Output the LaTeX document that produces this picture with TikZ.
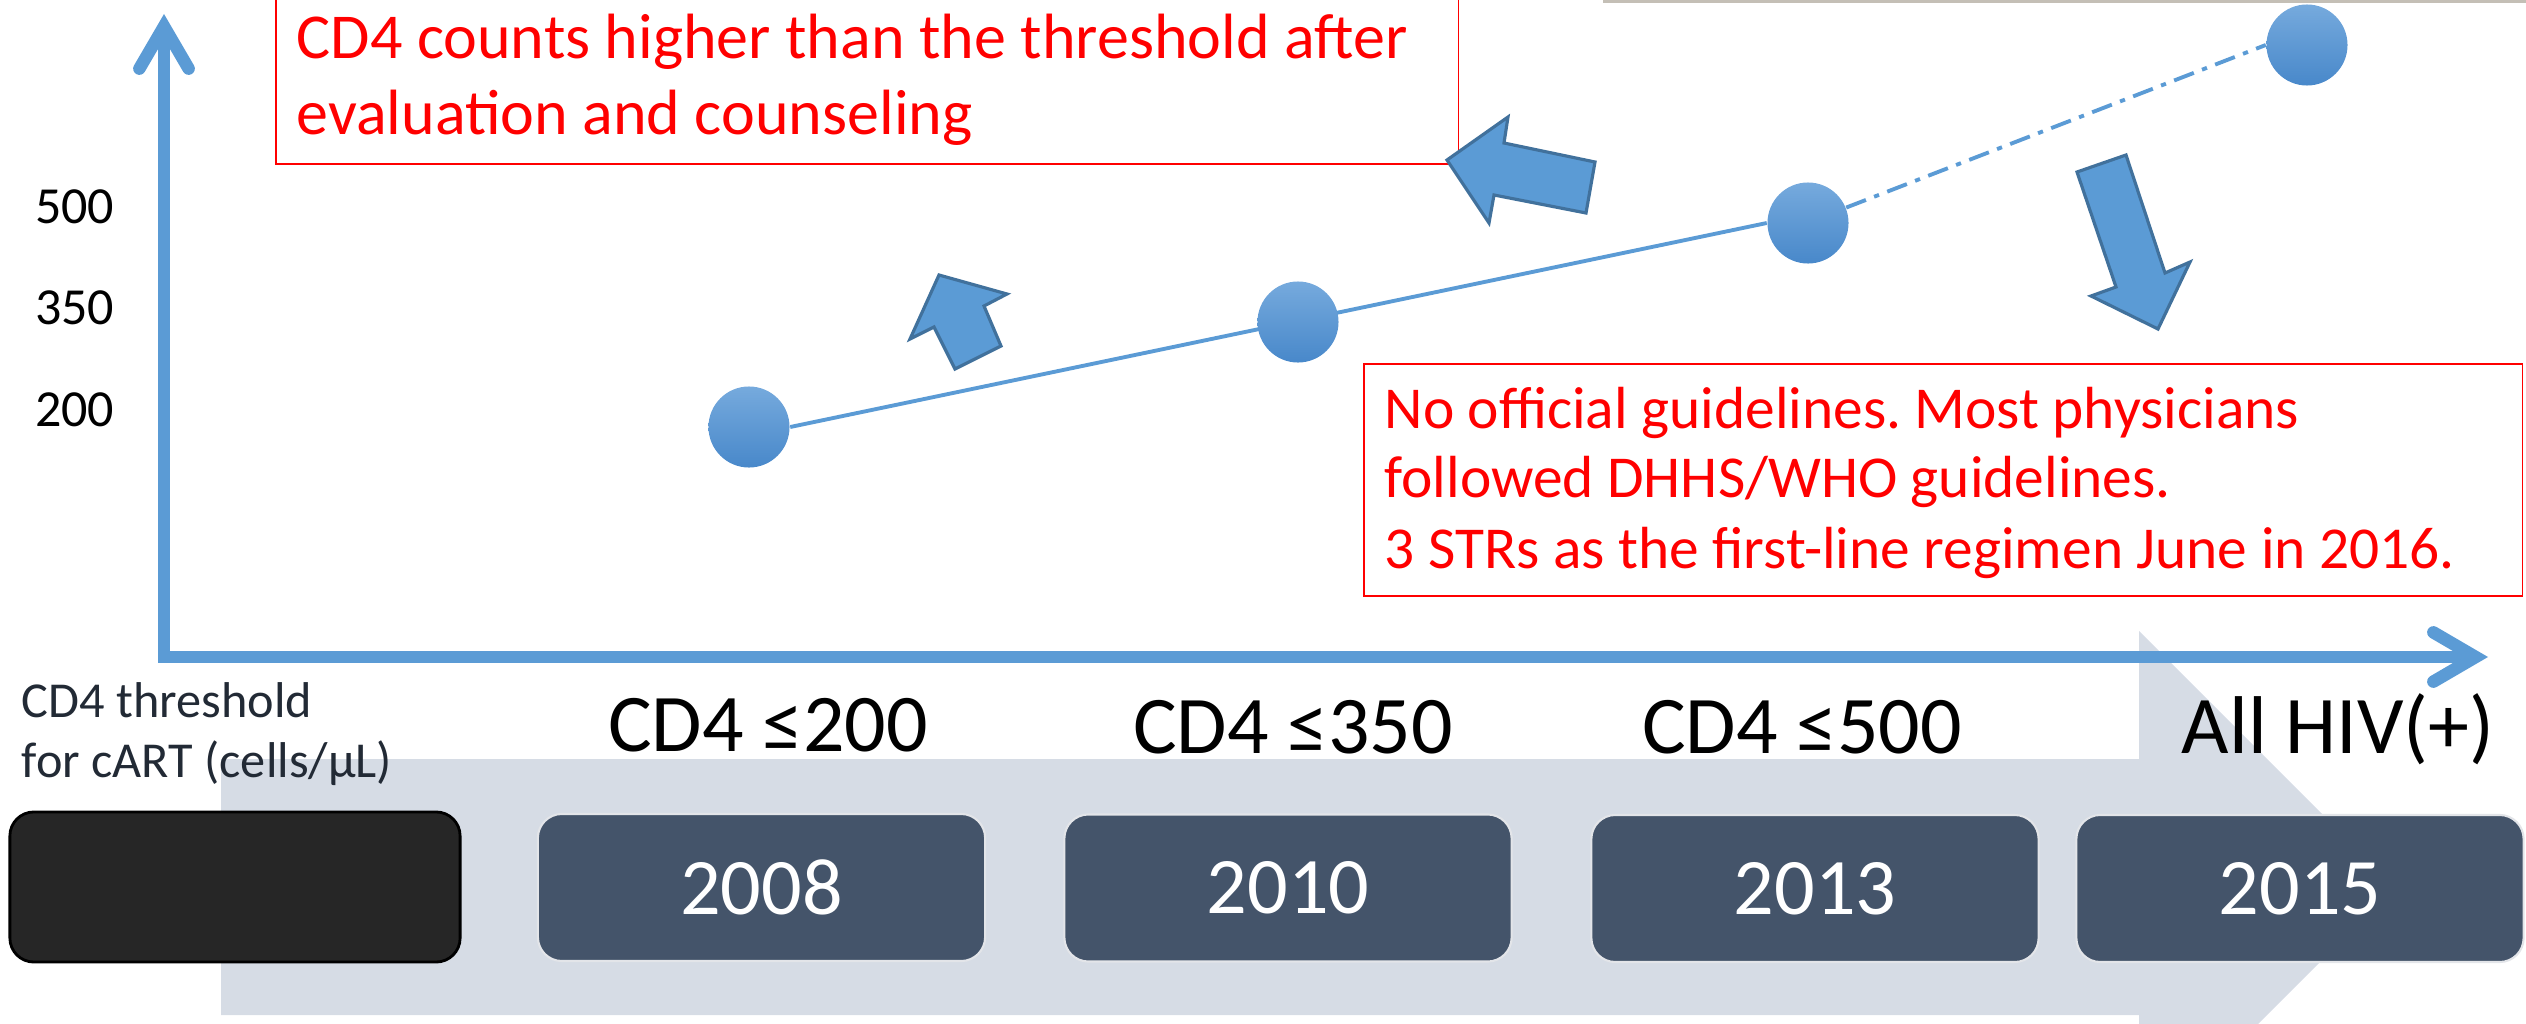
\documentclass[tikz,border=0pt]{standalone}
\usepackage{fontspec}
\setmainfont{Carlito}
\usetikzlibrary{arrows.meta}
\frenchspacing
\definecolor{axisblue}{HTML}{5B9BD5}
\definecolor{arrowedge}{HTML}{41719C}
\definecolor{dotlight}{HTML}{76AADD}
\definecolor{dotdark}{HTML}{4888CA}
\definecolor{bandgray}{HTML}{D6DCE5}
\definecolor{yearfill}{HTML}{44546A}
\definecolor{darkfill}{HTML}{262626}
\definecolor{labelink}{HTML}{222A35}
\definecolor{topstrip}{HTML}{C4BFB6}
\definecolor{notered}{HTML}{FF0000}
\pgfdeclarelayer{bg}
\pgfsetlayers{bg,main}
\tikzset{
  redbox/.style={draw=notered, line width=0.5pt, inner sep=0pt, anchor=north west},
  redtext/.style={text=notered, inner sep=0pt, anchor=base west},
  ticklabel/.style={inner sep=0pt, anchor=base east, font=\fontsize{14.8}{18}\selectfont},
  yearbox/.style={draw=white!85!yearfill, line width=0.6pt, fill=yearfill, rounded corners=0.24cm,
    minimum width=4.47cm, minimum height=1.47cm, inner sep=0pt, text=white,
    font=\fontsize{22.8}{27}\selectfont},
  threshold/.style={inner sep=0pt, anchor=base, font=\fontsize{23.3}{28}\selectfont},
  dot/.style={circle, minimum size=0.81cm, inner sep=0pt, top color=dotlight, bottom color=dotdark},
  blockarrow/.style={fill=axisblue, draw=arrowedge, line width=0.9pt, line join=miter},
  dataline/.style={draw=axisblue, line width=1.1pt},
  axisline/.style={draw=axisblue, line width=3.56pt,
    {Straight Barb[length=12pt,width=14pt,line cap=round]}-{Straight Barb[length=12pt,width=14pt,line cap=round]}},
  keylabel/.style={inner sep=0pt, anchor=base west, text=labelink, font=\fontsize{14.3}{17}\selectfont}
}
\begin{document}
\begin{tikzpicture}[x=0.01cm, y=-0.01cm]
\useasboundingbox (0,0) rectangle (2526,1024);
\clip (0,0) rectangle (2526,1024);

% thin strip along the top edge
\fill[topstrip] (1603,0) rectangle (2526,3);

% timeline band with arrow head
\fill[bandgray] (221,759) -- (2139,759) -- (2139,631) -- (2395,887) -- (2139,1143)
  -- (2139,1015) -- (221,1015) -- cycle;

% upper note
\node[redbox, minimum width=11.82cm, minimum height=1.68cm] (noteA) at (275,-5) {};
\node[redtext, font=\fontsize{18.2}{22}\selectfont] (noteA1) at (296,58)
  {CD4 counts higher than the threshold after};
\node[redtext, font=\fontsize{18.2}{22}\selectfont] (noteA2) at (296,134)
  {evaluation and counseling};

% lower note
\node[redbox, minimum width=11.58cm, minimum height=2.32cm] (noteB) at (1363,363) {};
\node[redtext, font=\fontsize{16.9}{20}\selectfont] (noteB1) at (1384,428)
  {No official guidelines. Most physicians};
\node[redtext, font=\fontsize{16.9}{20}\selectfont] (noteB2) at (1384,497)
  {followed DHHS/WHO guidelines.};
\node[redtext, font=\fontsize{16.9}{20}\selectfont] (noteB3) at (1384,568)
  {3 STRs as the first-line regimen June in 2016.};

% axes
\coordinate (origin) at (164,657);
\coordinate (ytop) at (164,14);
\coordinate (xend) at (2488,657);
\draw[axisline, line join=miter] (ytop) -- (origin) -- (xend);

% tick values
\node[ticklabel] (v500) at (115,223) {500};
\node[ticklabel] (v350) at (115,324) {350};
\node[ticklabel] (v200) at (115,426) {200};

% data points
\node[dot] (c1) at (749,427) {};
\node[dot] (c2) at (1298,322) {};
\node[dot] (c3) at (1808,223) {};
\node[dot] (c4) at (2307,45) {};
\begin{pgfonlayer}{bg}
  \draw[dataline] (c1.east) -- (c3.west);
  \draw[dataline, dash pattern=on 6pt off 2.5pt on 1.5pt off 2.5pt] (c3.22) -- (c4.west);
\end{pgfonlayer}

% block arrows
\draw[blockarrow] (939,275) -- (1007,294) -- (984,306) -- (1001,346) -- (955,369)
  -- (934,327) -- (910,339) -- cycle;
\draw[blockarrow] (1447,160) -- (1508,117) -- (1504,143) -- (1595,162) -- (1586,213)
  -- (1494,195) -- (1489,223) -- cycle;
\draw[blockarrow] (2158,329) -- (2091,296) -- (2116,287) -- (2077,172) -- (2126,155)
  -- (2165,273) -- (2190,262) -- cycle;

% timeline label and boxes
\node[keylabel] (lab1) at (21,717) {CD4 threshold};
\node[keylabel] (lab2) at (21,777) {for cART (cells/µL)};
\node[draw=black, line width=0.8pt, fill=darkfill, rounded corners=0.24cm,
  minimum width=4.5cm, minimum height=1.5cm, inner sep=0pt] (keybox) at (235,887) {};

\node[yearbox] (y2008) at (761.5,887.5) {2008};
\node[yearbox] (y2010) at (1288,888) {2010};
\node[yearbox] (y2013) at (1815,888.5) {2013};
\node[yearbox] (y2015) at (2300,888.5) {2015};

\node[threshold] (t200) at (768,751) {CD4 ≤200};
\node[threshold] (t350) at (1293,753) {CD4 ≤350};
\node[threshold] (t500) at (1802,753) {CD4 ≤500};
\node[threshold] (tall) at (2338,753) {All HIV(+)};
\end{tikzpicture}
\end{document}
